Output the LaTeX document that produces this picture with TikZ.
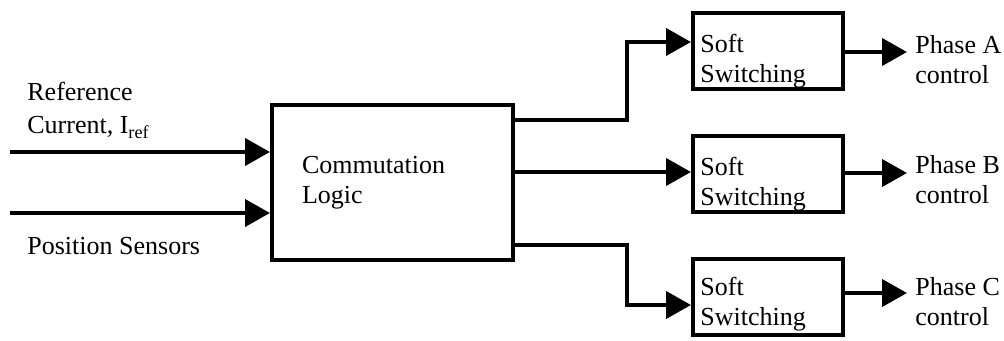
\documentclass[tikz,border=0pt]{standalone}
\usepackage{fontspec}
\setmainfont{Liberation Serif}
\usetikzlibrary{arrows.meta}
\tikzset{
  blk/.style={draw, line width=2pt, inner sep=0pt},
  arr/.style={line width=2pt, -{Triangle[length=12.5pt,width=13.5pt]}},
  txt/.style={inner sep=0pt, align=left, font=\fontsize{13}{15}\selectfont}
}
\begin{document}
\begin{tikzpicture}[x=0.5pt, y=-0.5pt]
    \useasboundingbox (0,0) rectangle (1004,341);

    % Commutation logic block
    \node[blk, txt, minimum width=120.5pt, minimum height=77.5pt, text width=90.5pt, inner xsep=15pt] (logic) at (392.5,182.5) {Commutation\\Logic};

    % Inputs
    \coordinate (refin) at (10,152);
    \coordinate (posin) at (10,213);
    \draw[arr] (refin) -- (logic.west |- refin);
    \draw[arr] (posin) -- (logic.west |- posin);
    \node[txt, anchor=north west] (reflbl) at (27,82) {Reference\\[1.5pt]Current, I\textsubscript{ref}};
    \node[txt, anchor=base west] (poslbl) at (27,255) {Position Sensors};

    % Soft switching blocks
    \node[blk, minimum width=75pt, minimum height=38pt] (swA) at (768,51) {};
    \node[blk, minimum width=75pt, minimum height=38pt] (swB) at (768,174) {};
    \node[blk, minimum width=75pt, minimum height=38pt] (swC) at (768,297) {};
    \node[txt, anchor=north west] (swtxtA) at (700,34) {Soft\\Switching};
    \node[txt, anchor=north west] (swtxtB) at (700,157) {Soft\\Switching};
    \node[txt, anchor=north west] (swtxtC) at (700,277) {Soft\\Switching};

    % Logic to soft switching
    \draw[arr] (logic.east |- 0,120) -- (627,120) -- (627,42) -- (swA.west |- 0,42);
    \draw[arr] (logic.east |- 0,172) -- (swB.west |- 0,172);
    \draw[arr] (logic.east |- 0,245) -- (627,245) -- (627,305) -- (swC.west |- 0,305);

    % Phase outputs
    \coordinate (phA) at (907,52);
    \coordinate (phB) at (907,173);
    \coordinate (phC) at (907,293);
    \draw[arr] (swA.east |- phA) -- (phA);
    \draw[arr] (swB.east |- phB) -- (phB);
    \draw[arr] (swC.east |- phC) -- (phC);
    \node[txt, anchor=north west] (phlblA) at (915,35) {Phase A\\control};
    \node[txt, anchor=north west] (phlblB) at (915,155) {Phase B\\control};
    \node[txt, anchor=north west] (phlblC) at (915,277) {Phase C\\control};
\end{tikzpicture}
\end{document}
